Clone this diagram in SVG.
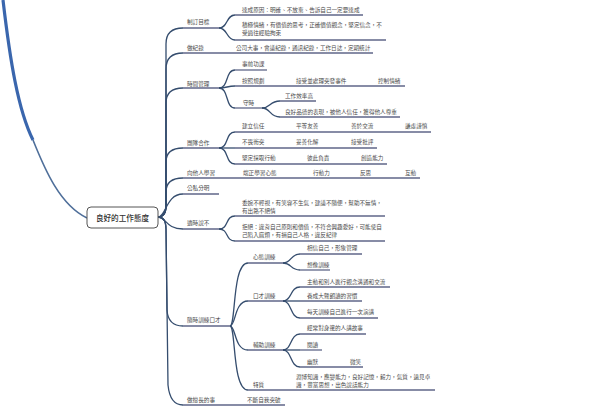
<svg xmlns="http://www.w3.org/2000/svg" width="599" height="416" viewBox="0 0 599 416">
<style>
.t{font-family:"Noto Sans CJK TC","Noto Sans CJK SC",sans-serif;font-size:5.6px;fill:#4a4a4a}
.u{stroke:#5f6688;stroke-width:1.3;fill:none}
.c{stroke:#354d6e;stroke-width:1.3;fill:none}
.root{fill:#fff;stroke:#555;stroke-width:1}
.rt{font-family:"Noto Sans CJK TC","Noto Sans CJK SC",sans-serif;font-size:7.6px;fill:#333;font-weight:500}
</style>
<rect width="599" height="416" fill="#fff"/>
<g id="connectors">
<path d="M3,0 C10,60 18,110 33,140" stroke="#3a66ad" stroke-width="3.2" fill="none"/>
<path d="M33,140 C45,170 60,205 87,218" stroke="#4f6f9a" stroke-width="1.6" fill="none"/>
<path class="c" d="M158,217 Q166,217 166,205 L166,44 Q166,28 183,28"/>
<path class="c" d="M158,217 Q166,217 166,205 L166,69 Q166,53 183,53"/>
<path class="c" d="M158,217 Q166,217 166,205 L166,103 Q166,88 183,88"/>
<path class="c" d="M158,217 Q166,217 166,205 L166,162 Q166,148 183,148"/>
<path class="c" d="M158,217 Q166,217 166,205 L166,192 Q166,178 183,178"/>
<path class="c" d="M158,217 C166,217 166,194 183,194"/>
<path class="c" d="M158,217 C166,217 166,229 183,229"/>
<path class="c" d="M158,217 Q166,217 166,229 L167,310 Q168,326 183,326"/>
<path class="c" d="M158,217 Q166,217 166,229 L168,385 Q170,405 183,405"/>
<path class="c" d="M219,28 C228,28 226,15 235,15"/>
<path class="c" d="M219,28 C228,28 226,40 235,40"/>
<path class="c" d="M219,88 C229,88 225,70 235,70"/>
<path class="c" d="M219,88 C227,88 227,86 235,86"/>
<path class="c" d="M219,88 C229,88 225,108 235,108"/>
<path class="c" d="M262,108 C271,108 269,101 280,101"/>
<path class="c" d="M262,108 C271,108 269,117 280,117"/>
<path class="c" d="M219,148 C229,148 225,132 235,132"/>
<path class="c" d="M219,148 L235,148"/>
<path class="c" d="M219,148 C229,148 225,164 235,164"/>
<path class="c" d="M219,229 C229,229 225,216 235,216"/>
<path class="c" d="M219,229 C229,229 225,241 235,241"/>
<path class="c" d="M230,326 C236,326 232,263 248,263"/>
<path class="c" d="M230,326 C236,326 234,301 248,301"/>
<path class="c" d="M230,326 C236,326 234,350 248,350"/>
<path class="c" d="M230,326 C236,326 232,390 248,390"/>
<path class="c" d="M283,263 C292,263 290,254 300,254"/>
<path class="c" d="M283,263 C292,263 290,270 300,270"/>
<path class="c" d="M283,301 C292,301 290,287 300,287"/>
<path class="c" d="M283,301 L300,301"/>
<path class="c" d="M283,301 C292,301 290,318 300,318"/>
<path class="c" d="M283,350 C292,350 290,334 300,334"/>
<path class="c" d="M283,350 L300,350"/>
<path class="c" d="M283,350 C292,350 290,367 300,367"/>
</g>
<g id="root">
<rect class="root" x="87" y="207" width="71" height="21" rx="4"/>
<text class="rt" x="122.5" y="220.5" text-anchor="middle">良好的工作態度</text>
</g>
<g id="n1">
<text class="t" x="187" y="24">制訂目標</text>
<line class="u" x1="183" y1="28" x2="219" y2="28"/>
</g>
<g id="n1a">
<text class="t" x="242" y="12">達成原因：明確、不放棄、告訴自己一定要達成</text>
<line class="u" x1="235" y1="15" x2="363" y2="15"/>
</g>
<g id="n1b">
<text class="t" x="242" y="27">積極情緒，有價值的思考，正確價值觀念，堅定信念，不</text>
<text class="t" x="242" y="35">受過往經驗拘束</text>
<line class="u" x1="235" y1="40" x2="386" y2="40"/>
</g>
<g id="n2">
<text class="t" x="187" y="50">做紀錄</text>
<text class="t" x="236" y="50">公司大事，會議紀錄，通訊紀錄，工作日誌，定期統計</text>
<line class="u" x1="183" y1="53" x2="373" y2="53"/>
</g>
<g id="n3">
<text class="t" x="187" y="86">時間管理</text>
<line class="u" x1="183" y1="88" x2="219" y2="88"/>
</g>
<g id="n3a">
<text class="t" x="242" y="66">事前功課</text>
<line class="u" x1="235" y1="70" x2="267" y2="70"/>
</g>
<g id="n3b">
<text class="t" x="242" y="83">按照規劃</text>
<text class="t" x="296" y="83">接受並處理突發事件</text>
<text class="t" x="378" y="83">控制情緒</text>
<line class="u" x1="235" y1="86" x2="405" y2="86"/>
</g>
<g id="n3c">
<text class="t" x="243" y="105">守時</text>
<line class="u" x1="235" y1="108" x2="262" y2="108"/>
</g>
<g id="n3c1">
<text class="t" x="285" y="98">工作效率高</text>
<line class="u" x1="280" y1="101" x2="316" y2="101"/>
</g>
<g id="n3c2">
<text class="t" x="285" y="114">良好品德的表現，被他人信任，獲得他人尊重</text>
<line class="u" x1="280" y1="117" x2="400" y2="117"/>
</g>
<g id="n4">
<text class="t" x="187" y="145">團隊合作</text>
<line class="u" x1="183" y1="148" x2="219" y2="148"/>
</g>
<g id="n4a">
<text class="t" x="242" y="128">建立信任</text>
<text class="t" x="296" y="128">平等友善</text>
<text class="t" x="351" y="128">善於交流</text>
<text class="t" x="405" y="128">謙虛謹慎</text>
<line class="u" x1="235" y1="132" x2="431" y2="132"/>
</g>
<g id="n4b">
<text class="t" x="242" y="144">不畏衝突</text>
<text class="t" x="296" y="144">妥善化解</text>
<text class="t" x="351" y="144">接受批評</text>
<line class="u" x1="235" y1="148" x2="377" y2="148"/>
</g>
<g id="n4c">
<text class="t" x="242" y="160">堅定採取行動</text>
<text class="t" x="307" y="160">彼此負責</text>
<text class="t" x="361" y="160">創造能力</text>
<line class="u" x1="235" y1="164" x2="387" y2="164"/>
</g>
<g id="n5">
<text class="t" x="187" y="175">向他人學習</text>
<text class="t" x="243" y="175">端正學習心態</text>
<text class="t" x="313" y="175">行動力</text>
<text class="t" x="360" y="175">反思</text>
<text class="t" x="405" y="175">互動</text>
<line class="u" x1="183" y1="178" x2="420" y2="178"/>
</g>
<g id="n6">
<text class="t" x="187" y="190">公私分明</text>
<line class="u" x1="183" y1="194" x2="219" y2="194"/>
</g>
<g id="n7">
<text class="t" x="187" y="225">適時說不</text>
<line class="u" x1="183" y1="229" x2="219" y2="229"/>
</g>
<g id="n7a">
<text class="t" x="242" y="205">委婉不輕視，有笑容不生氣，建議不隨便，幫助不無情，</text>
<text class="t" x="242" y="213">有出路不絕情</text>
<line class="u" x1="235" y1="216" x2="385" y2="216"/>
</g>
<g id="n7b">
<text class="t" x="242" y="229">拒絕：違背自己原則和價值，不符合興趣愛好，可能使自</text>
<text class="t" x="242" y="237">己陷入麻煩，有損自己人格，違反紀律</text>
<line class="u" x1="235" y1="241" x2="385" y2="241"/>
</g>
<g id="n8">
<text class="t" x="187" y="322">隨時訓練口才</text>
<line class="u" x1="183" y1="326" x2="230" y2="326"/>
</g>
<g id="n8a">
<text class="t" x="253" y="259">心態訓練</text>
<line class="u" x1="248" y1="263" x2="283" y2="263"/>
</g>
<g id="n8a1">
<text class="t" x="307" y="250">相信自己，形象管理</text>
<line class="u" x1="300" y1="254" x2="362" y2="254"/>
</g>
<g id="n8a2">
<text class="t" x="307" y="267">想像訓練</text>
<line class="u" x1="300" y1="270" x2="330" y2="270"/>
</g>
<g id="n8b">
<text class="t" x="253" y="298">口才訓練</text>
<line class="u" x1="248" y1="301" x2="283" y2="301"/>
</g>
<g id="n8b1">
<text class="t" x="307" y="284">主動和別人進行觀念溝通和交流</text>
<line class="u" x1="300" y1="287" x2="390" y2="287"/>
</g>
<g id="n8b2">
<text class="t" x="307" y="298">養成大聲朗讀的習慣</text>
<line class="u" x1="300" y1="301" x2="362" y2="301"/>
</g>
<g id="n8b3">
<text class="t" x="307" y="314">每天訓練自己進行一次演講</text>
<line class="u" x1="300" y1="318" x2="378" y2="318"/>
</g>
<g id="n8c">
<text class="t" x="253" y="347">輔助訓練</text>
<line class="u" x1="248" y1="350" x2="283" y2="350"/>
</g>
<g id="n8c1">
<text class="t" x="307" y="330">經常對身邊的人講故事</text>
<line class="u" x1="300" y1="334" x2="366" y2="334"/>
</g>
<g id="n8c2">
<text class="t" x="307" y="347">閱讀</text>
<line class="u" x1="300" y1="350" x2="322" y2="350"/>
</g>
<g id="n8c3">
<text class="t" x="307" y="364">幽默</text>
<text class="t" x="350" y="364">微笑</text>
<line class="u" x1="300" y1="367" x2="363" y2="367"/>
</g>
<g id="n8d">
<text class="t" x="253" y="387">特質</text>
<text class="t" x="296" y="379">淵博知識，應變能力，良好記憶，毅力，氣質，遠見卓</text>
<text class="t" x="296" y="387">識，豐富思想，出色說話能力</text>
<line class="u" x1="248" y1="390" x2="435" y2="390"/>
</g>
<g id="n9">
<text class="t" x="187" y="402">做擅長的事</text>
<text class="t" x="247" y="402">不斷自我突破</text>
<line class="u" x1="183" y1="405" x2="285" y2="405"/>
</g>
</svg>
